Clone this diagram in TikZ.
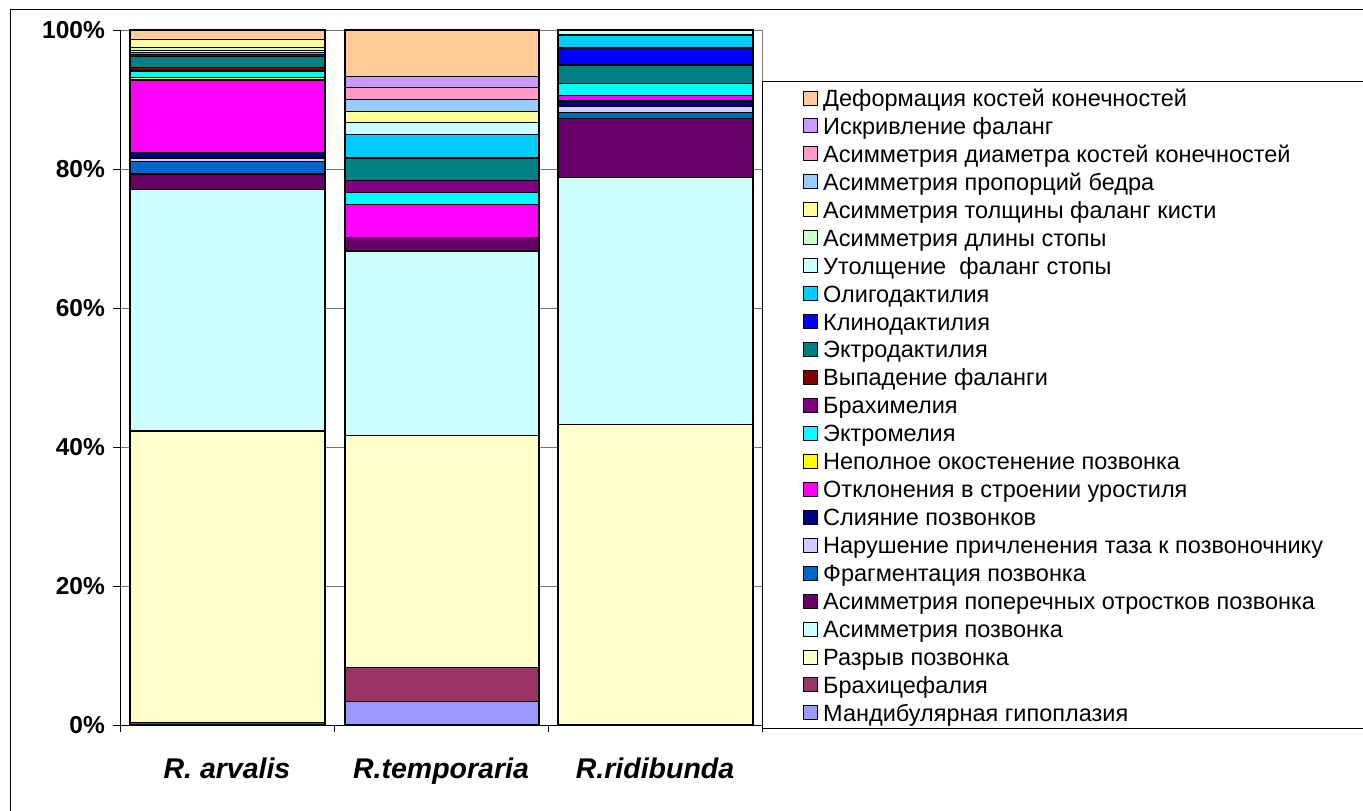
\documentclass[tikz,border=0pt]{standalone}
\usepackage{fontspec}
\setmainfont{Liberation Sans}

% series colours (Excel palette)
\definecolor{deform}{HTML}{FFCC99}
\definecolor{iskriv}{HTML}{CC99FF}
\definecolor{diam}{HTML}{FF99CC}
\definecolor{propor}{HTML}{99CCFF}
\definecolor{tolsh}{HTML}{FFFF99}
\definecolor{dliny}{HTML}{CCFFCC}
\definecolor{utol}{HTML}{CCFFFF}
\definecolor{oligo}{HTML}{00CCFF}
\definecolor{klino}{HTML}{0000FF}
\definecolor{ektrod}{HTML}{008080}
\definecolor{vypad}{HTML}{800000}
\definecolor{brachim}{HTML}{800080}
\definecolor{ektrom}{HTML}{00FFFF}
\definecolor{nepoln}{HTML}{FFFF00}
\definecolor{otklon}{HTML}{FF00FF}
\definecolor{sliyan}{HTML}{000080}
\definecolor{narush}{HTML}{CCCCFF}
\definecolor{fragm}{HTML}{0066CC}
\definecolor{asympoper}{HTML}{660066}
\definecolor{asympozv}{HTML}{CCFFFF}
\definecolor{razryv}{HTML}{FFFFCC}
\definecolor{brachy}{HTML}{993366}
\definecolor{mandib}{HTML}{9999FF}

\tikzset{
  seg/.style={draw=black, line width=1.3pt},
  legmark/.style={draw=black, line width=1pt, minimum size=14pt, inner sep=0pt},
  legtext/.style={anchor=base west, inner sep=0pt, font=\fontsize{23.5}{25}\selectfont},
  ticklab/.style={anchor=base east, inner sep=0pt, font=\fontsize{24.5}{26}\selectfont\bfseries},
  catlab/.style={anchor=base, inner sep=0pt, font=\fontsize{28.5}{30}\selectfont\bfseries\itshape},
  grid line/.style={draw=black!55, line width=0.8pt}
}

\begin{document}
\begin{tikzpicture}[x=1pt, y=-1pt]
  \useasboundingbox (0,0) rectangle (1363,811);
  \clip (0,0) rectangle (1363,811);

  % chart frame
  \draw[line width=0.9pt] (10,811) -- (10,9) -- (1370,9);

  % plot area and grid
  \draw[draw=black!50, line width=1pt] (120,725) rectangle (762,30);
  \foreach \v in {20,40,60,80,100}
    \draw[grid line] (120,{725-6.95*\v}) -- (762,{725-6.95*\v});

  % R. arvalis
  \foreach \col/\lo/\hi in {brachy/0/0.4, razryv/0.4/42.3, asympozv/42.3/77.1,
      asympoper/77.1/79.3, fragm/79.3/81.1, narush/81.1/81.6, sliyan/81.6/82.4,
      otklon/82.4/92.8, nepoln/92.8/93.2, ektrom/93.2/94.0, brachim/94.0/94.2,
      vypad/94.2/94.6, ektrod/94.6/96.2, klino/96.2/96.5, oligo/96.5/96.8,
      utol/96.8/97.1, dliny/97.1/97.5, tolsh/97.5/98.6, deform/98.6/100}
    \filldraw[seg, fill=\col] (130,{725-6.95*\lo}) rectangle (325,{725-6.95*\hi});

  % R.temporaria
  \foreach \col/\lo/\hi in {mandib/0/3.4, brachy/3.4/8.3, razryv/8.3/41.7,
      asympozv/41.7/68.2, asympoper/68.2/70.1, otklon/70.1/74.9,
      ektrom/74.9/76.6, brachim/76.6/78.3, ektrod/78.3/81.6, oligo/81.6/85.0,
      utol/85.0/86.7, tolsh/86.7/88.3, propor/88.3/90.0, diam/90.0/91.7,
      iskriv/91.7/93.3, deform/93.3/100}
    \filldraw[seg, fill=\col] (345,{725-6.95*\lo}) rectangle (539,{725-6.95*\hi});

  % R.ridibunda
  \foreach \col/\lo/\hi in {razryv/0/43.2, asympozv/43.2/78.8,
      asympoper/78.8/87.3, fragm/87.3/88.1, narush/88.1/89.0, sliyan/89.0/89.8,
      otklon/89.8/90.6, ektrom/90.6/92.3, ektrod/92.3/94.96,
      klino/94.96/97.4, oligo/97.4/99.3, utol/99.3/100}
    \filldraw[seg, fill=\col] (558,{725-6.95*\lo}) rectangle (753,{725-6.95*\hi});

  % axes
  \draw[line width=1pt] (120,30) -- (120,725) -- (762,725);
  \foreach \v [count=\i from 0] in {0,20,40,60,80,100} {
    \draw[line width=1pt] (113,{725-6.95*\v}) -- (120,{725-6.95*\v});
    \node[ticklab] (ylab\i) at (105,{725-6.95*\v+8.8}) {\v\%};
  }
  \foreach \x in {120,334,548,762}
    \draw[line width=1pt] (\x,725) -- (\x,732);

  \node[catlab] (arv) at (227,778) {R. arvalis};
  \node[catlab] (temp) at (441,778) {R.temporaria};
  \node[catlab] (rid) at (655,778) {R.ridibunda};

  % legend
  \filldraw[fill=white, draw=black, line width=0.9pt] (762,728) rectangle (1370,81);
  \foreach \col/\txt [count=\i from 0] in {deform/Деформация костей конечностей,
      iskriv/Искривление фаланг, diam/Асимметрия диаметра костей конечностей,
      propor/Асимметрия пропорций бедра, tolsh/Асимметрия толщины фаланг кисти,
      dliny/Асимметрия длины стопы, utol/Утолщение\ \ фаланг стопы,
      oligo/Олигодактилия, klino/Клинодактилия, ektrod/Эктродактилия,
      vypad/Выпадение фаланги, brachim/Брахимелия, ektrom/Эктромелия,
      nepoln/Неполное окостенение позвонка, otklon/Отклонения в строении уростиля,
      sliyan/Слияние позвонков, narush/Нарушение причленения таза к позвоночнику,
      fragm/Фрагментация позвонка, asympoper/Асимметрия поперечных отростков позвонка,
      asympozv/Асимметрия позвонка, razryv/Разрыв позвонка,
      brachy/Брахицефалия, mandib/Мандибулярная гипоплазия} {
    \node[legmark, fill=\col] (mark\i) at (810.5,{98+27.95*\i}) {};
    \node[legtext] (leg\i) at (823,{98+27.95*\i+8.4}) {\txt};
  }
\end{tikzpicture}
\end{document}
